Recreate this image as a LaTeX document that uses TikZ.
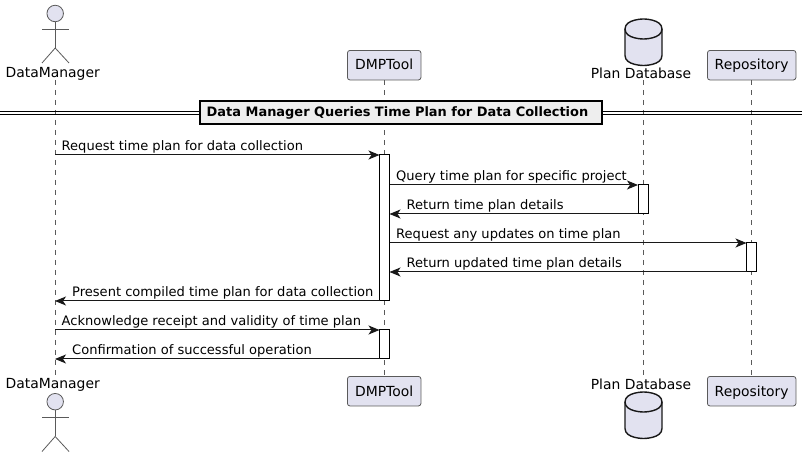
\documentclass[tikz,border=0pt]{standalone}
\usepackage{fontspec}
\setmainfont{DejaVu Sans}
\usetikzlibrary{arrows.meta}
\definecolor{partfill}{HTML}{E2E2F0}
\definecolor{partline}{HTML}{181818}
\definecolor{thinline}{HTML}{5A5A5A}
\definecolor{titlefill}{HTML}{EEEEEE}

\begin{document}
\begin{tikzpicture}[x=1pt, y=-1pt,
  main/.style = {draw=thinline, line width=0.8pt, fill=partfill, rounded corners=2.5pt, minimum height=29.5pt, inner sep=0pt, text height=10pt, text depth=0.4pt, font=\fontsize{13.9pt}{16pt}\selectfont},
  plabel/.style = {inner sep=0pt, font=\fontsize{13.9pt}{16pt}\selectfont},
  msg/.style = {anchor=base west, inner sep=0pt, font=\fontsize{13.05pt}{15pt}\selectfont},
  life/.style = {draw=thinline, line width=0.7pt, dash pattern=on 5pt off 5pt},
  call/.style = {draw=partline, line width=1pt, -{Stealth[length=11pt, width=9pt, inset=3pt]}},
  act/.style = {draw=black, line width=1pt, fill=white, minimum width=10pt, inner sep=0pt, outer sep=0pt},
  head/.style = {circle, draw=thinline, line width=0.8pt, fill=partfill, minimum size=16.5pt, inner sep=0pt},
  limb/.style = {draw=thinline, line width=0.8pt},
  dbase/.style = {draw=partline, line width=1.4pt, fill=partfill}]

\useasboundingbox (0, 0) rectangle (807, 457);

% lifeline ends
\coordinate (U1) at (55, 80);
\coordinate (U2) at (55, 376);
\coordinate (D1) at (643, 80);
\coordinate (D2) at (643, 376);

\node[main, minimum width=73.5pt] (T1) at (384.2, 65.2) {DMPTool};
\node[main, minimum width=73.5pt] (T2) at (384.2, 391.2) {DMPTool};
\node[main, minimum width=88.5pt] (R1) at (751.7, 65.2) {Repository};
\node[main, minimum width=88.5pt] (R2) at (751.7, 391.2) {Repository};

\draw[life] (U1) -- (U2);
\draw[life] (T1) -- (T2);
\draw[life] (D1) -- (D2);
\draw[life] (R1) -- (R2);

% top actor
\node[head] (H1) at (55.2, 13.5) {};
\coordinate (N1) at (55.2, 48);
\coordinate (AL1) at (42, 29);
\coordinate (AR1) at (69, 29);
\coordinate (FL1) at (42, 63);
\coordinate (FR1) at (69, 63);
\draw[limb] (H1) -- (N1);
\draw[limb] (AL1) -- (AR1);
\draw[limb] (FL1) -- (N1) -- (FR1);
\node[plabel] (L1) at (52.7, 73.5) {DataManager};

% bottom actor
\node[plabel] (L2) at (52.7, 384.5) {DataManager};
\node[head] (H2) at (55.2, 401.7) {};
\coordinate (N2) at (55.2, 436.5);
\coordinate (AL2) at (42, 417.3);
\coordinate (AR2) at (69, 417.3);
\coordinate (FL2) at (42, 451.5);
\coordinate (FR2) at (69, 451.5);
\draw[limb] (H2) -- (N2);
\draw[limb] (AL2) -- (AR2);
\draw[limb] (FL2) -- (N2) -- (FR2);

% databases
\draw[dbase] (625, 29) .. controls (625, 19) and (643.5, 19) .. (643.5, 19) .. controls (643.5, 19) and (662, 19) .. (662, 29) -- (662, 55.5) .. controls (662, 65.5) and (643.5, 65.5) .. (643.5, 65.5) .. controls (643.5, 65.5) and (625, 65.5) .. (625, 55.5) -- cycle;
\draw[dbase, fill=none] (625, 29) .. controls (625, 39) and (643.5, 39) .. (643.5, 39) .. controls (643.5, 39) and (662, 39) .. (662, 29);
\node[plabel] (P1) at (641, 73.5) {Plan Database};

\node[plabel] (P2) at (641, 384.5) {Plan Database};
\draw[dbase] (625, 402) .. controls (625, 392) and (643.5, 392) .. (643.5, 392) .. controls (643.5, 392) and (662, 392) .. (662, 402) -- (662, 428.5) .. controls (662, 438.5) and (643.5, 438.5) .. (643.5, 438.5) .. controls (643.5, 438.5) and (625, 438.5) .. (625, 428.5) -- cycle;
\draw[dbase, fill=none] (625, 402) .. controls (625, 412) and (643.5, 412) .. (643.5, 412) .. controls (643.5, 412) and (662, 412) .. (662, 402);

% divider
\coordinate (DL1) at (0, 111.5);
\coordinate (DR1) at (802, 111.5);
\coordinate (DL2) at (0, 114.5);
\coordinate (DR2) at (802, 114.5);
\draw[black, line width=1pt] (DL1) -- (DR1);
\draw[black, line width=1pt] (DL2) -- (DR2);
\node[draw=black, line width=2pt, fill=titlefill, minimum width=402pt, minimum height=23pt, inner sep=0pt, font=\fontsize{12.95pt}{15pt}\selectfont\bfseries] (title) at (400.5, 112.8) {Data Manager Queries Time Plan for Data Collection\hspace*{6pt}};

% activations
\node[act, minimum height=146pt] (A1) at (384.5, 228) {};
\node[act, minimum height=29pt] (A2) at (643, 199.5) {};
\node[act, minimum height=29pt] (A3) at (751.5, 257.5) {};
\node[act, minimum height=29pt] (A4) at (384.5, 344.5) {};

% message ends
\coordinate (M1) at (55, 155);
\coordinate (M2) at (389.5, 185);
\coordinate (M3) at (389.5, 214);
\coordinate (M4) at (389.5, 243);
\coordinate (M5) at (389.5, 272);
\coordinate (M6) at (55, 301);
\coordinate (M7) at (55, 330);
\coordinate (M8) at (55, 359);

\draw[call] (M1) -- (A1.north west);
\draw[call] (M2) -- (A2.north west);
\draw[call] (A2.south west) -- (M3);
\draw[call] (M4) -- (A3.north west);
\draw[call] (A3.south west) -- (M5);
\draw[call] (A1.south west) -- (M6);
\draw[call] (M7) -- (A4.north west);
\draw[call] (A4.south west) -- (M8);

\node[msg] (t1) at (61.5, 150.6) {Request time plan for data collection};
\node[msg] (t2) at (396, 180.6) {Query time plan for specific project};
\node[msg] (t3) at (406.5, 209.6) {Return time plan details};
\node[msg] (t4) at (396, 238.6) {Request any updates on time plan};
\node[msg] (t5) at (406.5, 267.6) {Return updated time plan details};
\node[msg] (t6) at (72, 296.6) {Present compiled time plan for data collection};
\node[msg] (t7) at (61.5, 325.6) {Acknowledge receipt and validity of time plan};
\node[msg] (t8) at (72, 354.6) {Confirmation of successful operation};
\end{tikzpicture}
\end{document}
